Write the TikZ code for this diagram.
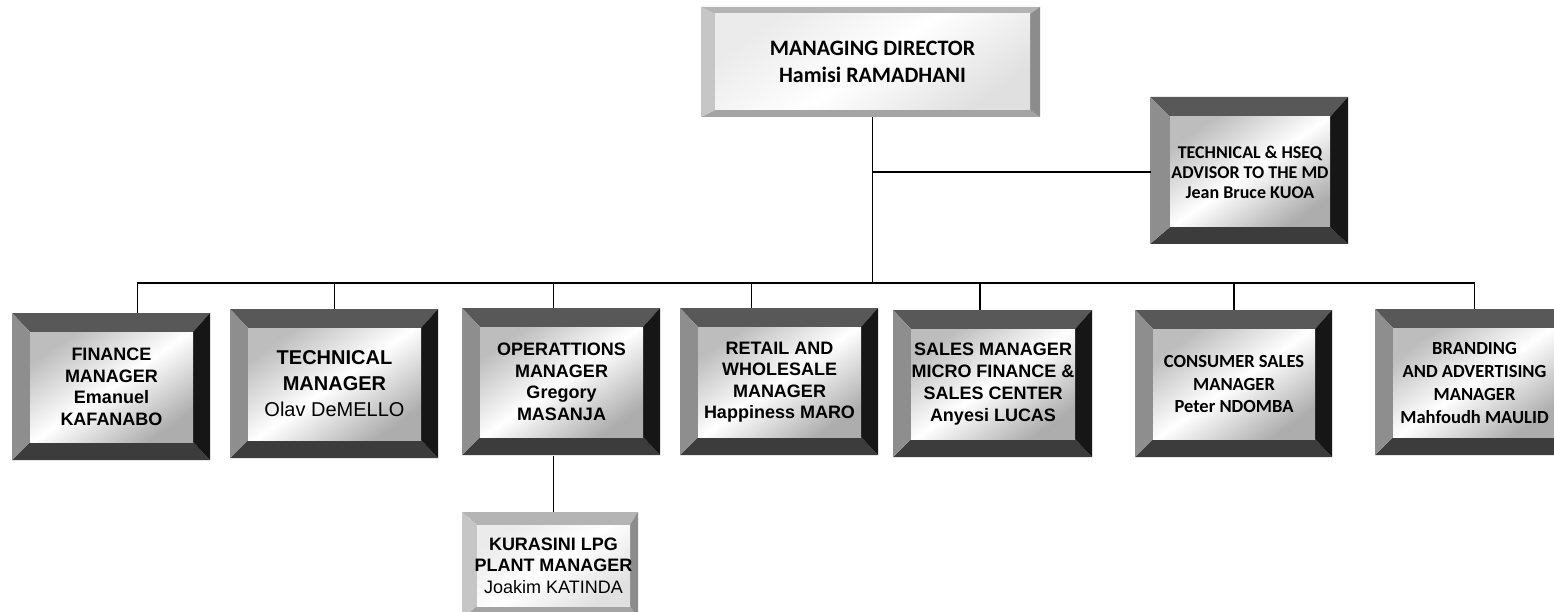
\documentclass[tikz,border=0pt]{standalone}
\usepackage{fontspec}
\setmainfont{Liberation Sans}
\newfontfamily\calfont{Carlito}
\newfontfamily\arifont{Liberation Sans}
\definecolor{dT}{HTML}{585858}
\definecolor{dL}{HTML}{8E8E8E}
\definecolor{dR}{HTML}{161616}
\definecolor{dB}{HTML}{3C3C3C}
\definecolor{lT}{HTML}{B4B4B4}
\definecolor{lL}{HTML}{C6C6C6}
\definecolor{lR}{HTML}{8C8C8C}
\definecolor{lB}{HTML}{A4A4A4}
\colorlet{bT}{dT}\colorlet{bL}{dL}\colorlet{bR}{dR}\colorlet{bB}{dB}
\newcommand\darkset{\colorlet{bT}{dT}\colorlet{bL}{dL}\colorlet{bR}{dR}\colorlet{bB}{dB}\def\facestyle{darkface}}
\newcommand\lightset{\colorlet{bT}{lT}\colorlet{bL}{lL}\colorlet{bR}{lR}\colorlet{bB}{lB}\def\facestyle{lightface}}
\def\facestyle{darkface}
\def\bvl{18}\def\bvt{19}\def\bvr{17}\def\bvb{18}
% #1 name, #2 x1, #3 y1, #4 x2, #5 y2, #6 font, #7 text
\newcommand\obox[7]{%
  \fill[bT] (#2,#3) -- (#4,#3) -- ({#4-\bvr},{#3+\bvt}) -- ({#2+\bvl},{#3+\bvt}) -- cycle;
  \fill[bB] (#2,#5) -- (#4,#5) -- ({#4-\bvr},{#5-\bvb}) -- ({#2+\bvl},{#5-\bvb}) -- cycle;
  \fill[bL] (#2,#3) -- ({#2+\bvl},{#3+\bvt}) -- ({#2+\bvl},{#5-\bvb}) -- (#2,#5) -- cycle;
  \fill[bR] (#4,#3) -- ({#4-\bvr},{#3+\bvt}) -- ({#4-\bvr},{#5-\bvb}) -- (#4,#5) -- cycle;
  \shade[\facestyle] ({#2+\bvl},{#3+\bvt}) rectangle ({#4-\bvr},{#5-\bvb});
  \node[boxtext, font=#6, minimum width={#4-#2}, minimum height={#5-#3}]
    (#1) at ({(#2+\bvl+#4-\bvr)/2},{(#3+\bvt+#5-\bvb)/2}) {#7};
}
\tikzset{
  darkface/.style={top color=black!26, bottom color=black!32, middle color=white, shading angle=35},
  lightface/.style={top color=black!8, bottom color=black!12, middle color=white, shading angle=35},
  boxtext/.style={inner sep=0pt, align=center, text=black},
  conn/.style={line width=1.8pt, black},
}
\newcommand\calb[2]{\calfont\bfseries\fontsize{#1}{#2}\selectfont}
\newcommand\arib[2]{\arifont\bfseries\fontsize{#1}{#2}\selectfont}
\newcommand\arir[2]{\arifont\fontsize{#1}{#2}\selectfont}
\begin{document}
\begin{tikzpicture}[x=1pt,y=-1pt]
\fill[white] (0,0) rectangle (1554,612);
\useasboundingbox (0,0) rectangle (1554,612);
% boxes
\lightset
\def\bvl{14}\def\bvt{7}\def\bvr{10}\def\bvb{7}
\obox{md}{701}{7}{1040}{117}{\calb{22}{27}}{MANAGING DIRECTOR\\Hamisi RAMADHANI}
\def\bvl{15}\def\bvt{13}\def\bvr{8}\def\bvb{12}
\obox{kur}{462}{512}{638}{618}{\arib{18}{21.5}}{KURASINI LPG\\PLANT MANAGER\\\mdseries Joakim KATINDA}
\darkset
\def\bvl{20}\def\bvt{20}\def\bvr{18}\def\bvb{17}
\obox{adv}{1150}{97}{1348}{244}{\calb{18}{20}}{TECHNICAL \& HSEQ\\ADVISOR TO THE MD\\Jean Bruce KUOA}
\def\bvl{18}\def\bvt{19}\def\bvr{17}\def\bvb{18}
\obox{fin}{12}{313}{210}{460}{\arib{18}{21.5}}{FINANCE\\MANAGER\\Emanuel\\KAFANABO}
\obox{tech}{230}{309}{438}{458}{\arib{20}{26}}{TECHNICAL\\MANAGER\\\mdseries Olav DeMELLO}
\obox{ops}{462}{308}{660}{455}{\arib{18}{21.5}}{OPERATTIONS\\MANAGER\\Gregory\\MASANJA}
\obox{ret}{680}{308}{878}{455}{\arib{18}{21.5}}{RETAIL AND\\WHOLESALE\\MANAGER\\Happiness MARO}
\obox{sal}{893}{310}{1092}{457}{\arib{18}{22}}{SALES MANAGER\\MICRO FINANCE \&\\SALES CENTER\\Anyesi LUCAS}
\obox{con}{1135}{310}{1332}{457}{\calb{18.5}{22.5}}{CONSUMER SALES\\MANAGER\\Peter NDOMBA}
\obox{brd}{1375}{309}{1573}{455}{\calb{18.5}{23}}{BRANDING\\AND ADVERTISING\\MANAGER\\Mahfoudh MAULID}
% connectors
\path (md.south) -- ++(0,166) coordinate (bus);
\draw[conn] (md.south) -- (bus);
\draw[conn] (adv.west) -| (md.south);
\draw[conn] ([xshift=26pt]fin.north) |- (bus);
\draw[conn] (tech.north) |- (bus);
\draw[conn] ([xshift=-8pt]ops.north) |- (bus);
\draw[conn] ([xshift=-28pt]ret.north) |- (bus);
\draw[conn] ([xshift=-13pt]sal.north) |- (bus);
\draw[conn] (con.north) |- (bus);
\draw[conn] (brd.north) |- (bus);
\draw[conn] (kur.north) -- (kur.north |- ops.south);
\end{tikzpicture}
\end{document}
